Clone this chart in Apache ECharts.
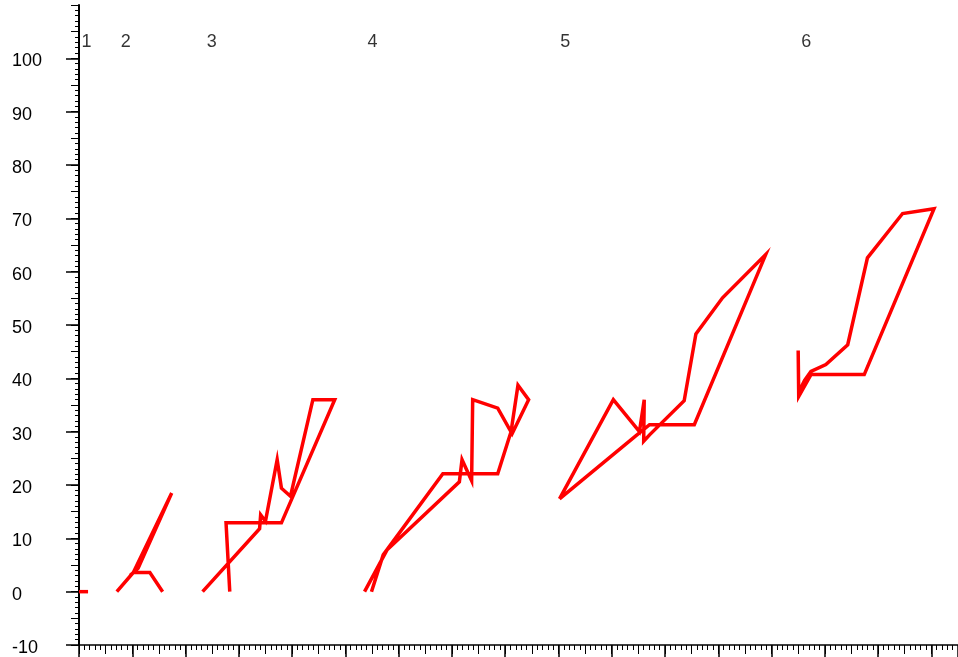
<!DOCTYPE html>
<html>
<head>
<meta charset="utf-8">
<script src="https://cdn.jsdelivr.net/npm/echarts@6/dist/echarts.min.js"></script>
<style>
  html, body { margin: 0; padding: 0; background: #fff; }
  #chart { width: 958px; height: 657px; }
</style>
</head>
<body>
<div id="chart"></div>
<script>
// Traces, one per numbered run, as [x, y] pairs
const loop1 = [[0, 0], [1.7, 0]];
const loop2 = [[7.1, 0], [10.2, 3.6], [17.4, 18.5], [11.1, 4.4], [10.2, 3.6], [13.3, 3.6], [15.7, 0]];
const loop3 = [[28.3, 0], [27.6, 12.9], [38, 12.9], [48, 36], [43.9, 36], [39.7, 17.9], [38, 19.4],
               [37.2, 24.75], [35.0, 13.2], [34.1, 14.4], [33.9, 11.8], [23.2, 0]];
const loop4 = [[54.9, 0], [57.1, 6.9], [68.3, 22.1], [78.6, 22.1], [81.1, 30], [82.4, 38.7], [84.4, 36],
               [81.3, 29.6], [78.6, 34.4], [73.9, 36], [73.7, 20.8], [71.9, 24.75], [71.4, 20.6],
               [57.8, 7.8], [53.6, 0]];
const loop5 = [[90.2, 17.4], [100.3, 36], [105.2, 30], [106.1, 36], [106, 28.2], [107.1, 29.4],
               [113.6, 35.8], [115.8, 48.3], [120.8, 55.1], [128.9, 63.2], [115.5, 31.3],
               [107.1, 31.3], [104.4, 29.1], [90.2, 17.4]];
const loop6 = [[135, 45.2], [135.1, 36.6], [137.4, 40.7], [147.4, 40.7], [160.5, 71.8], [154.6, 70.9],
               [148, 62.6], [144.3, 46.3], [140.2, 42.6], [137.4, 41.3], [136.2, 39.6], [135.3, 37.8]];

// Run numbers shown along the top
const runNames = ['1', '2', '3', '4', '5', '6'];
const runLabelX = [1.4, 8.8, 24.9, 55.1, 91.3, 136.5];
const runLabelY = 103.0;

const loops = [loop1, loop2, loop3, loop4, loop5, loop6];

const xRange = { min: 0, max: 165 };
const yRange = { min: -10, max: 110 };

const chart = echarts.init(document.getElementById('chart'), null, { renderer: 'canvas' });

const axisColor = '#000';
const font = 'Liberation Sans, Arial, sans-serif';

// Two stacked axes per direction: the first carries the 5-step medium ticks and
// the 1-step minor ticks, the second the long 10-step ticks and the labels.
const option = {
  animation: false,
  backgroundColor: '#fff',
  grid: { left: 79, right: 0, top: 5, bottom: 12, containLabel: false },
  xAxis: [
    {
      type: 'value', min: xRange.min, max: xRange.max, interval: 5,
      axisLine: { show: true, onZero: false, lineStyle: { color: axisColor, width: 1.5 } },
      axisTick: { show: true, length: 9, lineStyle: { color: axisColor, width: 1 } },
      minorTick: { show: true, splitNumber: 5, length: 5, lineStyle: { color: axisColor, width: 1 } },
      axisLabel: { show: false },
      splitLine: { show: false }
    },
    {
      type: 'value', min: xRange.min, max: xRange.max, interval: 10, position: 'bottom',
      axisLine: { show: false, onZero: false },
      axisTick: { show: true, length: 14, lineStyle: { color: axisColor, width: 1.5 } },
      axisLabel: { show: false },
      splitLine: { show: false }
    }
  ],
  yAxis: [
    {
      type: 'value', min: yRange.min, max: yRange.max, interval: 5,
      axisLine: { show: true, onZero: false, lineStyle: { color: axisColor, width: 2 } },
      axisTick: { show: true, length: 8, lineStyle: { color: axisColor, width: 1 } },
      minorTick: { show: true, splitNumber: 5, length: 4, lineStyle: { color: axisColor, width: 1 } },
      axisLabel: { show: false },
      splitLine: { show: false }
    },
    {
      type: 'value', min: yRange.min, max: yRange.max, interval: 10, position: 'left',
      axisLine: { show: false, onZero: false },
      axisTick: { show: true, length: 13, lineStyle: { color: axisColor, width: 1.5 } },
      axisLabel: {
        show: true, showMaxLabel: false, align: 'left', margin: 67,
        verticalAlign: 'top', lineHeight: 6,
        color: '#000', fontFamily: font, fontSize: 18
      },
      splitLine: { show: false }
    }
  ],
  series: loops.map((pts, i) => ({
    name: runNames[i],
    type: 'line',
    xAxisIndex: 0,
    yAxisIndex: 0,
    data: pts,
    showSymbol: false,
    symbol: 'none',
    clip: false,
    lineStyle: { color: '#ff0000', width: 3.5, join: 'miter' }
  })).concat([{
    type: 'scatter',
    xAxisIndex: 0,
    yAxisIndex: 0,
    symbolSize: 0,
    data: runNames.map((n, i) => ({ name: n, value: [runLabelX[i], runLabelY] })),
    label: {
      show: true, position: 'inside', formatter: p => p.name,
      color: '#000', fontFamily: font, fontSize: 18
    }
  }])
};

chart.setOption(option);
</script>
</body>
</html>
